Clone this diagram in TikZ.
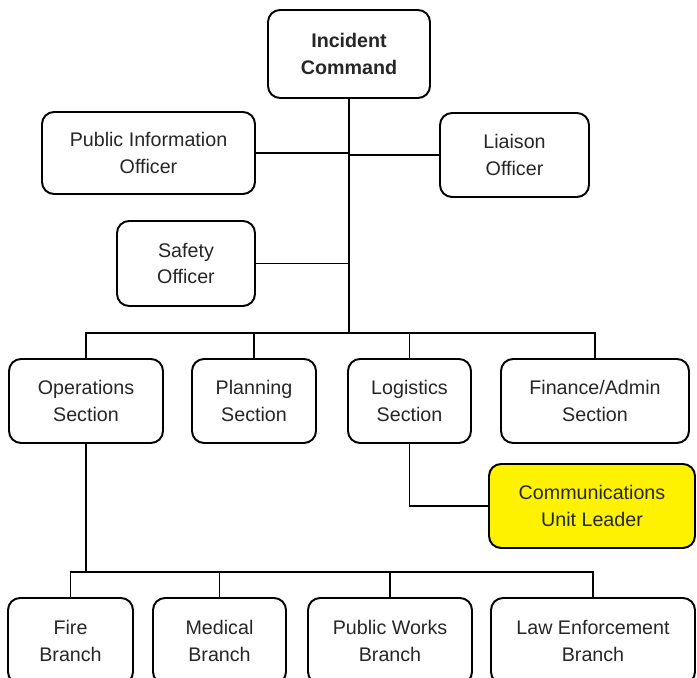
\documentclass[tikz,border=0pt]{standalone}
\usepackage{fontspec}
\setmainfont{Liberation Sans}
\begin{document}
\begin{tikzpicture}[x=0.02cm,y=-0.02cm,
  box/.style={rectangle,draw=black,line width=1.1pt,rounded corners=0.24cm,fill=white,text=black!85,align=center,inner sep=0pt,font=\fontsize{11.2}{15}\selectfont},
  link/.style={line width=1pt}]
\useasboundingbox (0,0) rectangle (697,678);
\clip (0,0) rectangle (697,678);

\node (ic) at (349,54)[box,minimum width=3.24cm,minimum height=1.76cm]{\textbf{Incident}\\\textbf{Command}};
\node (pio) at (148.5,153)[box,minimum width=4.26cm,minimum height=1.64cm]{Public Information\\Officer};
\node (lo) at (514.5,155)[box,minimum width=2.98cm,minimum height=1.68cm]{Liaison\\Officer};
\node (so) at (186,263.5)[box,minimum width=2.76cm,minimum height=1.7cm]{Safety\\Officer};

\node (s1) at (86,401)[box,minimum width=3.08cm,minimum height=1.68cm]{Operations\\Section};
\node (s2) at (254,401)[box,minimum width=2.48cm,minimum height=1.68cm]{Planning\\Section};
\node (s3) at (409.5,401)[box,minimum width=2.46cm,minimum height=1.68cm]{Logistics\\Section};
\node (s4) at (595,401)[box,minimum width=3.76cm,minimum height=1.68cm]{Finance/Admin\\Section};
\node (cu) at (592,506)[box,fill=yellow,minimum width=4.12cm,minimum height=1.68cm]{Communications\\Unit Leader};

\node (b1) at (70.5,641)[box,minimum width=2.5cm,minimum height=1.72cm]{Fire\\Branch};
\node (b2) at (219.5,641)[box,minimum width=2.66cm,minimum height=1.72cm]{Medical\\Branch};
\node (b3) at (390,641)[box,minimum width=3.28cm,minimum height=1.72cm]{Public Works\\Branch};
\node (b4) at (593,641)[box,minimum width=4.08cm,minimum height=1.72cm]{Law Enforcement\\Branch};

% command staff
\coordinate (sbus) at (349,333);
\draw[link] (ic)--(sbus);
\draw[link] (pio)--(pio -| ic);
\draw[link] (lo.west)--(lo.west -| ic);
\draw[link] (so)--(so -| ic);

% sections
\foreach \n in {s1,s2,s3,s4}
  \draw[link] (\n.north) |- (sbus);
\draw[link] (s3.south) |- (cu.west);

% branches
\coordinate (bbus) at (86,572);
\draw[link] (s1)--(bbus);
\foreach \n in {b1,b2,b3,b4}
  \draw[link] (\n.north) |- (bbus);
\end{tikzpicture}
\end{document}
